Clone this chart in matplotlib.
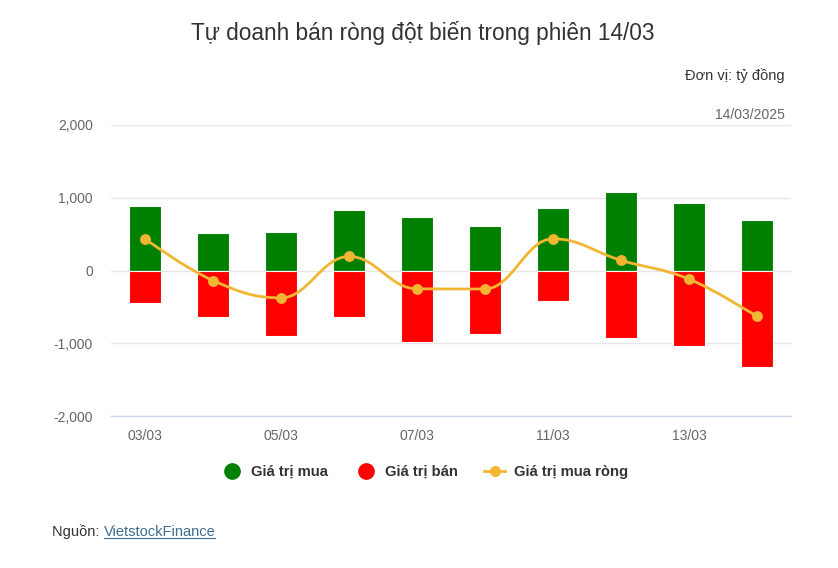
import matplotlib
matplotlib.use("Agg")
import matplotlib.pyplot as plt
from matplotlib.lines import Line2D
from matplotlib.path import Path
from matplotlib.patches import PathPatch
import numpy as np

plt.rcParams['font.family'] = ['Liberation Sans', 'DejaVu Sans']

dates = ["03/03", "04/03", "05/03", "06/03", "07/03", "10/03", "11/03", "12/03", "13/03", "14/03"]
buy = [887, 510, 528, 836, 735, 611, 855, 1076, 924, 698]
sell = [-451, -644, -906, -644, -989, -869, -419, -934, -1040, -1330]
net = [436, -138, -376, 193, -252, -254, 436, 140, -118, -632]
yticks = [-2000, -1000, 0, 1000, 2000]
ytick_labels = ["-2,000", "-1,000", "0", "1,000", "2,000"]

GREEN = "#008000"
RED = "#ff0000"
ORANGE = "#f2b632"

fig = plt.figure(figsize=(8.38, 5.68), dpi=100)
ax = fig.add_axes([111/838, 1-416/568, 680/838, 291/568])

x = np.arange(len(dates))
ax.bar(x, buy, width=0.48, color=GREEN, edgecolor="white", linewidth=0.8, zorder=2)
ax.bar(x, sell, width=0.48, color=RED, edgecolor="white", linewidth=0.8, zorder=2)

# Highcharts-style spline
def spline_path(xs, ys, smoothing=1.5):
    n = len(xs)
    denom = smoothing + 1
    lefts = [None]*n
    rights = [None]*n
    for i in range(n):
        px, py = xs[i], ys[i]
        if i == 0 or i == n-1:
            lefts[i] = (px, py)
            rights[i] = (px, py)
            continue
        lx, ly = xs[i-1], ys[i-1]
        nx, ny = xs[i+1], ys[i+1]
        lcx = (smoothing*px + lx)/denom
        lcy = (smoothing*py + ly)/denom
        rcx = (smoothing*px + nx)/denom
        rcy = (smoothing*py + ny)/denom
        corr = ((rcy - lcy)*(rcx - px))/(rcx - lcx) + py - rcy
        lcy += corr
        rcy += corr
        if lcy > ly and lcy > py:
            lcy = max(ly, py); rcy = 2*py - lcy
        elif lcy < ly and lcy < py:
            lcy = min(ly, py); rcy = 2*py - lcy
        if rcy > ny and rcy > py:
            rcy = max(ny, py); lcy = 2*py - rcy
        elif rcy < ny and rcy < py:
            rcy = min(ny, py); lcy = 2*py - rcy
        lefts[i] = (lcx, lcy)
        rights[i] = (rcx, rcy)
    verts = [(xs[0], ys[0])]
    codes = [Path.MOVETO]
    for i in range(1, n):
        verts += [rights[i-1], lefts[i], (xs[i], ys[i])]
        codes += [Path.CURVE4]*3
    return Path(verts, codes)

path = spline_path(list(x.astype(float)), [float(v) for v in net])
ax.add_patch(PathPatch(path, facecolor="none", edgecolor=ORANGE, linewidth=2, zorder=3))
ax.plot(x, net, linestyle="none", marker="o", markersize=6.8, color=ORANGE, zorder=4)

ax.set_xlim(-0.5, len(dates)-0.5)
ax.set_ylim(-2000, 2000)
ax.set_yticks(yticks)
ax.set_yticklabels(ytick_labels)
ax.set_xticks(x[::2])
ax.set_xticklabels(dates[::2])
ax.tick_params(axis='both', length=0, labelsize=10, labelcolor="#666666")
ax.tick_params(axis='y', pad=13)
ax.tick_params(axis='x', pad=9)
for s in ["top", "right", "left"]:
    ax.spines[s].set_visible(False)
ax.spines["bottom"].set_color("#ccd6eb")
ax.spines["bottom"].set_linewidth(1)
ax.grid(axis='y', color="#e6e6e6", linewidth=1, zorder=0)
ax.set_axisbelow(True)

fig.text(423/838, 1-33/568, "Tự doanh bán ròng đột biến trong phiên 14/03",
         ha="center", va="center", fontsize=16.3, color="#333333")
fig.text(785/838, 1-76/568, "Đơn vị: tỷ đồng", ha="right", va="center",
         fontsize=10.5, color="#333333")
fig.text(785/838, 1-115/568, "14/03/2025", ha="right", va="center",
         fontsize=10, color="#666666")

handles = [
    Line2D([], [], linestyle="none", marker="o", markersize=11, color=GREEN),
    Line2D([], [], linestyle="none", marker="o", markersize=11, color=RED),
    Line2D([], [], color=ORANGE, linewidth=2, marker="o", markersize=7),
]
labels = ["Giá trị mua", "Giá trị bán", "Giá trị mua ròng"]
leg = fig.legend(handles, labels, loc="center", bbox_to_anchor=(425/838, 1-472/568),
                 ncol=3, frameon=False, fontsize=10.7, handlelength=1.4,
                 columnspacing=1.8, handletextpad=0.6)
for t in leg.get_texts():
    t.set_fontweight("bold")
    t.set_color("#333333")

t1 = fig.text(52/838, 1-532/568, "Nguồn: ", ha="left", va="center", fontsize=10.5, color="#333333")
fig.canvas.draw()
bb = t1.get_window_extent()
fig.text(bb.x1/838, 1-532/568, "VietstockFinance", ha="left", va="center", fontsize=10.5,
         color="#3c6e8f", url="https://finance.vietstock.vn")
t2 = fig.texts[-1]
fig.canvas.draw()
bb2 = t2.get_window_extent()
fig.add_artist(Line2D([bb2.x0/838, bb2.x1/838], [(bb2.y0+1)/568, (bb2.y0+1)/568],
                      color="#3c6e8f", linewidth=0.8))

fig.savefig("out.png", dpi=100, facecolor="white")
